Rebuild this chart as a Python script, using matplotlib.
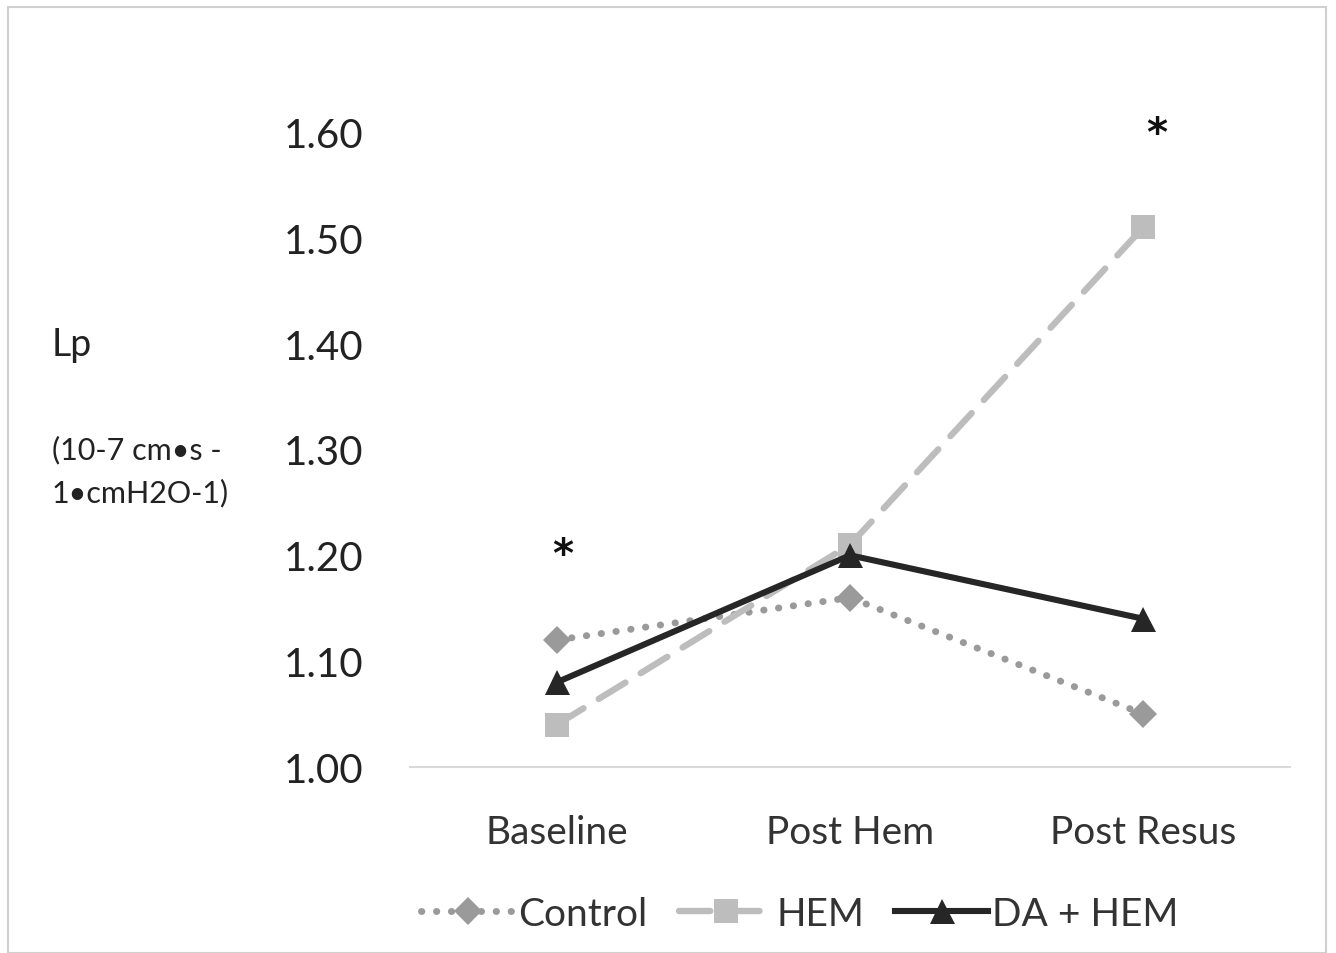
import matplotlib
matplotlib.use("Agg")
import matplotlib.pyplot as plt
from matplotlib.patches import Rectangle

categories = ["Baseline", "Post Hem", "Post Resus"]
control = [1.12, 1.16, 1.05]
hem = [1.04, 1.21, 1.51]
da_hem = [1.08, 1.20, 1.14]
yticks = [1.00, 1.10, 1.20, 1.30, 1.40, 1.50, 1.60]
star_cats = [0, 2]
star_vals = [1.20, 1.598]

plt.rcParams['font.family'] = ['Lato', 'DejaVu Sans']

fig = plt.figure(figsize=(13.36, 9.54), dpi=100)
fig.patches.append(Rectangle((8/1336, 0), 1318/1336, 946/954, transform=fig.transFigure,
                             fill=False, edgecolor='#d0d0d0', linewidth=1.5))
ax = fig.add_axes([0.307, 0.195, 0.6586, 0.6656])
x = list(range(len(categories)))

ax.plot(x, control, color='#9a9a9a', linewidth=5, linestyle=(0, (0.05, 2.1)),
        dash_capstyle='round', marker='D', markersize=14, markeredgewidth=0,
        markerfacecolor='#9a9a9a', label='Control')
ax.plot(x, hem, color='#bdbdbd', linewidth=4.6, linestyle=(0, (4.9, 2.8)),
        dash_capstyle='round',
        marker='s', markersize=17, markeredgewidth=0, markerfacecolor='#bdbdbd', label='HEM')
ax.plot(x, da_hem, color='#262626', linewidth=4.4, linestyle='-',
        marker='^', markersize=18, markeredgewidth=0, markerfacecolor='#262626', label='DA + HEM')

star_dx = [0.02, 0.045]
for xi, yi, dx in zip(star_cats, star_vals, star_dx):
    ax.text(xi + dx, yi, '*', fontsize=29, ha='center', va='center', color='#111111',
            fontweight='bold', family='DejaVu Sans', clip_on=False)

ax.set_xlim(-0.5, 2.5)
ax.set_ylim(1.0, 1.6)
ax.set_yticks(yticks)
ax.set_yticklabels([f"{v:.2f}" for v in yticks])
ax.set_xticks(x)
ax.set_xticklabels(categories)
ax.tick_params(axis='y', length=0, pad=34, labelsize=29, labelcolor='#222222')
ax.tick_params(axis='x', length=0, pad=34, labelsize=28, labelcolor='#333333')
for s in ['top', 'right', 'left']:
    ax.spines[s].set_visible(False)
ax.spines['bottom'].set_color('#d9d9d9')
ax.spines['bottom'].set_linewidth(1.5)

fig.text(52/1336, 1 - 345/954, 'Lp', fontsize=27, ha='left', va='center', color='#222222')
fig.text(52/1336, 1 - 450/954, '(10-7 cm•s -', fontsize=22, ha='left', va='center', color='#222222')
fig.text(52/1336, 1 - 493/954, '1•cmH2O-1)', fontsize=22, ha='left', va='center', color='#222222')

fig.legend(loc='center', bbox_to_anchor=(800/1336, 1 - 915/954), ncol=3, frameon=False,
           fontsize=28, handlelength=2.4, handletextpad=0.1, columnspacing=0.8,
           numpoints=1, labelcolor='#333333')

fig.savefig('out.png', dpi=100)
